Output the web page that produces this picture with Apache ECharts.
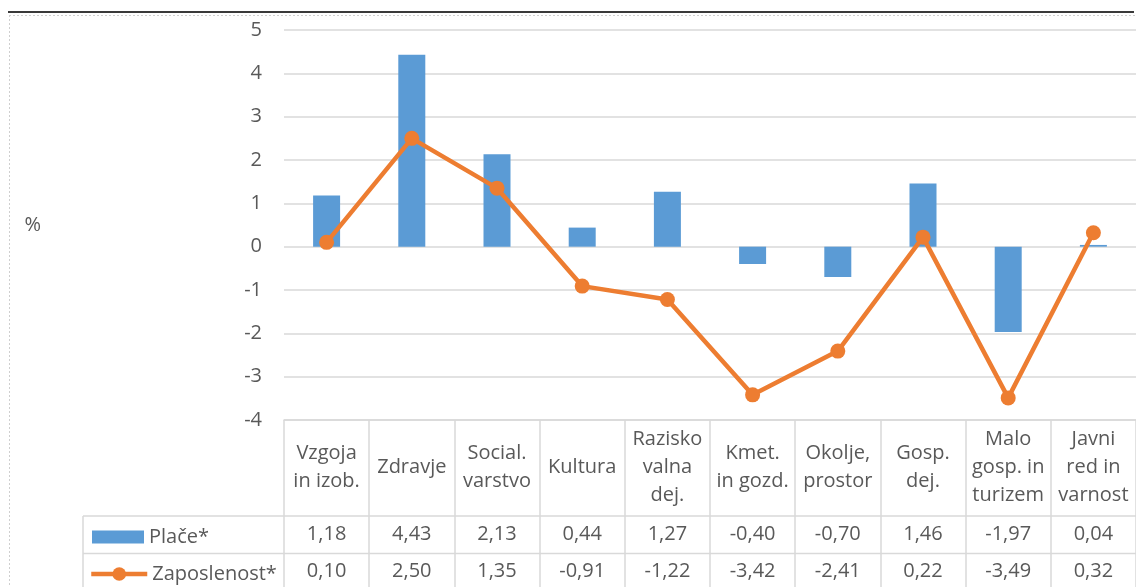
<!DOCTYPE html>
<html>
<head>
<meta charset="utf-8">
<script src="https://cdn.jsdelivr.net/npm/echarts@6/dist/echarts.min.js"></script>
<style>
    html, body { margin: 0; padding: 0; background: #fff; }
    .chart { width: 1136px; height: 587px; }
</style>
</head>
<body>
<div class="chart"></div>
<script>
const categories = [
    "Vzgoja\nin izob.", "Zdravje", "Social.\nvarstvo", "Kultura", "Razisko\nvalna\ndej.",
    "Kmet.\nin gozd.", "Okolje,\nprostor", "Gosp.\ndej.", "Malo\ngosp. in\nturizem", "Javni\nred in\nvarnost"
]
const place = [1.18, 4.43, 2.13, 0.44, 1.27, -0.40, -0.70, 1.46, -1.97, 0.04]
const zaposlenost = [0.10, 2.50, 1.35, -0.91, -1.22, -3.42, -2.41, 0.22, -3.49, 0.32]
const yMin = -4
const yMax = 5
const yStep = 1

const FONT = "Open Sans"
const TEXT = "#595959"
const GRIDLINE = "#D9D9D9"

// 1,18 style
function fmt(v) {
    return v.toFixed(2).replace(".", ",")
}

(function () {
    const myChart = echarts.init(document.querySelector(".chart"))

    const legendText = { fontSize: 20, color: TEXT, fontFamily: FONT }

    const option = {
        animation: false,
        color: ["#5B9BD5", "#ED7D31"],
        grid: {
            left: 284,
            top: 30,
            width: 858,
            height: 390
        },
        legend: [
            {
                left: 87,
                top: 522,
                itemWidth: 52,
                itemHeight: 13,
                textStyle: legendText,
                data: [{ name: "Plače*", icon: "rect" }]
            },
            {
                left: 84,
                top: 559,
                itemWidth: 56,
                itemHeight: 17,
                textStyle: legendText,
                data: [{ name: "Zaposlenost*", lineStyle: { width: 4.5 } }]
            }
        ],
        xAxis: [
            {
                type: "category",
                data: categories,
                position: "bottom",
                axisLine: { onZero: false, lineStyle: { color: GRIDLINE, width: 1.5 } },
                axisTick: { show: true, length: 170, lineStyle: { color: GRIDLINE, width: 1.5 } },
                axisLabel: {
                    interval: 0,
                    margin: 47,
                    verticalAlign: "middle",
                    lineHeight: 28,
                    fontSize: 20,
                    color: TEXT,
                    fontFamily: FONT
                }
            },
            {
                type: "category",
                data: categories,
                position: "bottom",
                axisLine: { show: false, onZero: false },
                axisTick: { show: false },
                axisLabel: {
                    interval: 0,
                    margin: 114,
                    verticalAlign: "middle",
                    fontSize: 20,
                    color: TEXT,
                    fontFamily: FONT,
                    formatter: function (v, i) { return fmt(place[i]) }
                }
            },
            {
                type: "category",
                data: categories,
                position: "bottom",
                axisLine: { show: false, onZero: false },
                axisTick: { show: false },
                axisLabel: {
                    interval: 0,
                    margin: 151,
                    verticalAlign: "middle",
                    fontSize: 20,
                    color: TEXT,
                    fontFamily: FONT,
                    formatter: function (v, i) { return fmt(zaposlenost[i]) }
                }
            }
        ],
        yAxis: {
            type: "value",
            min: yMin,
            max: yMax,
            interval: yStep,
            name: "%",
            nameLocation: "middle",
            nameRotate: 0,
            nameGap: 243,
            nameTextStyle: { fontSize: 20, color: TEXT, fontFamily: FONT, padding: [4, 0, 0, 0] },
            axisLine: { show: false },
            axisTick: { show: false },
            axisLabel: { fontSize: 20, color: TEXT, fontFamily: FONT, margin: 22 },
            splitLine: { lineStyle: { color: GRIDLINE, width: 1.5 } }
        },
        series: [
            {
                name: "Plače*",
                type: "bar",
                barWidth: 27,
                data: place
            },
            {
                name: "Zaposlenost*",
                type: "line",
                symbol: "circle",
                symbolSize: 15,
                lineStyle: { width: 4.5 },
                data: zaposlenost
            }
        ],
        graphic: [
            // page border bits from the source document
            { type: "line", shape: { x1: 8, y1: 12, x2: 1134, y2: 12 }, style: { stroke: "#3a3a3a", lineWidth: 2 } },
            { type: "line", shape: { x1: 9, y1: 15.5, x2: 1136, y2: 15.5 }, style: { stroke: "#cfcfcf", lineWidth: 1, lineDash: [2, 2] } },
            { type: "line", shape: { x1: 9.5, y1: 15, x2: 9.5, y2: 587 }, style: { stroke: "#cfcfcf", lineWidth: 1, lineDash: [2, 2] } },
            // data table rows
            { type: "line", shape: { x1: 83, y1: 516, x2: 1136, y2: 516 }, style: { stroke: GRIDLINE, lineWidth: 1.5 } },
            { type: "line", shape: { x1: 83, y1: 553.5, x2: 1136, y2: 553.5 }, style: { stroke: GRIDLINE, lineWidth: 1.5 } },
            { type: "line", shape: { x1: 83, y1: 516, x2: 83, y2: 587 }, style: { stroke: GRIDLINE, lineWidth: 1.5 } }
        ]
    }

    myChart.setOption(option)

    window.addEventListener("resize", function () {
        myChart.resize()
    })
})();
</script>
</body>
</html>
